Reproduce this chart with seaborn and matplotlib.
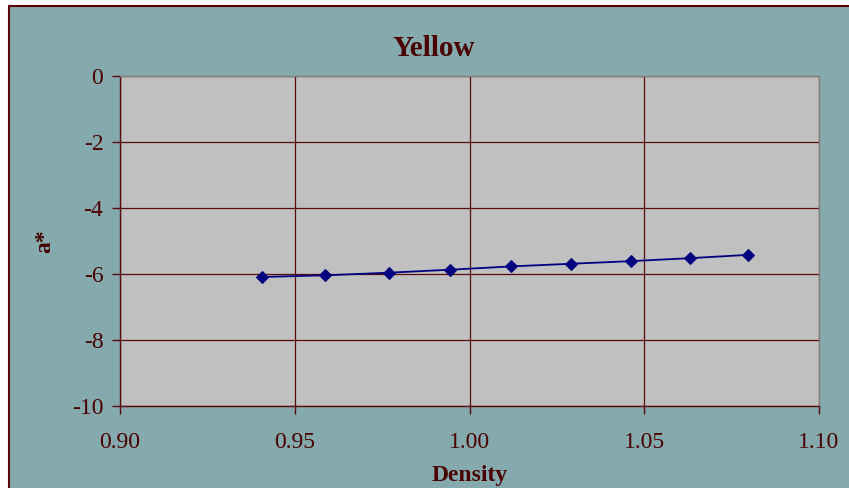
import matplotlib
matplotlib.use("Agg")
import matplotlib.pyplot as plt
import seaborn as sns
import pandas as pd
from matplotlib.patches import Rectangle
from matplotlib.lines import Line2D

density = [0.9406, 0.9587, 0.9770, 0.9944, 1.0119, 1.0290, 1.0462, 1.0631, 1.0797]
a_star = [-6.09, -6.04, -5.96, -5.87, -5.77, -5.69, -5.61, -5.52, -5.42]
x_ticks = [0.90, 0.95, 1.00, 1.05, 1.10]
y_ticks = [0, -2, -4, -6, -8, -10]

df = pd.DataFrame({"Density": density, "a*": a_star})

sns.set_theme(style="white")
plt.rcParams["font.family"] = ["Liberation Serif", "DejaVu Serif"]

TEXT = "#4a0000"
GRID = "#5a0a0a"

fig = plt.figure(figsize=(8.49, 4.88), dpi=100, facecolor="white")
bx, by = 9 / 849, 1 - 6 / 488
bg = Rectangle((bx, -0.1), 1.2, by + 0.1, transform=fig.transFigure,
               facecolor="#85aaad", edgecolor="none", zorder=-10)
fig.patches.append(bg)
fig.lines.append(Line2D([bx, 1.0], [by, by], transform=fig.transFigure,
                        color="#5a0000", linewidth=1.5, zorder=-9))
fig.lines.append(Line2D([bx, bx], [0, by], transform=fig.transFigure,
                        color="#5a0000", linewidth=1.5, zorder=-9))

ax = fig.add_axes([120 / 849, 1 - 406 / 488, (819 - 120) / 849, (406 - 76) / 488])
ax.set_facecolor("#c0c0c0")

sns.lineplot(data=df, x="Density", y="a*", ax=ax, color="#000080", linewidth=1.3,
             marker="D", markersize=6.5, markeredgecolor="#000080", zorder=5)

ax.set_xlim(0.90, 1.10)
ax.set_ylim(-10, 0)
ax.set_xticks(x_ticks)
ax.set_xticklabels([f"{v:.2f}" for v in x_ticks])
ax.set_yticks(y_ticks)
ax.set_yticklabels([str(v) for v in y_ticks])

ax.grid(True, color=GRID, linewidth=0.9)
ax.set_axisbelow(True)

for side in ["top", "right"]:
    ax.spines[side].set_color("#808080")
    ax.spines[side].set_linewidth(1.0)
for side in ["left", "bottom"]:
    ax.spines[side].set_color(GRID)
    ax.spines[side].set_linewidth(1.0)

ax.tick_params(axis="both", which="major", direction="out", length=6, width=1,
               color=GRID, labelcolor=TEXT, labelsize=17)
ax.tick_params(axis="x", bottom=True, pad=13)
ax.tick_params(axis="y", left=True, pad=6)

ax.set_xlabel("Density", fontsize=17, fontweight="bold", color=TEXT, labelpad=8)
ax.set_ylabel("a*", fontsize=17, fontweight="bold", color=TEXT, labelpad=12)
fig.text(434 / 849, 1 - 48 / 488, "Yellow", ha="center", va="center",
         fontsize=21, fontweight="bold", color=TEXT)

fig.savefig("out.png", dpi=100, facecolor=fig.get_facecolor())
